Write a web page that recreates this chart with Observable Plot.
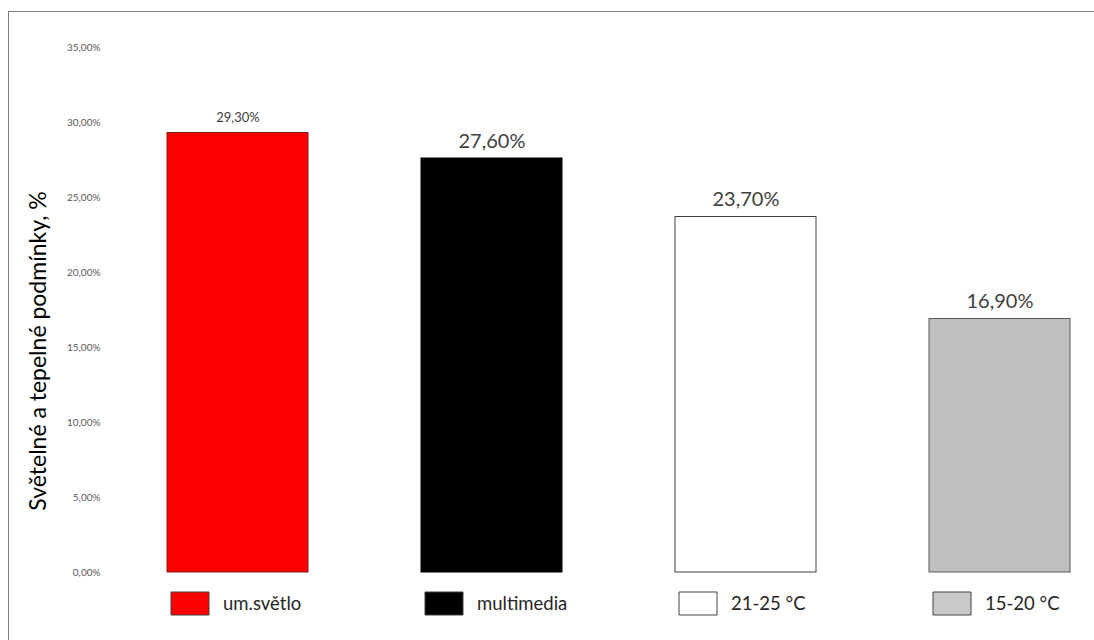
<!DOCTYPE html>
<html>
<head>
<meta charset="utf-8">
<script src="https://cdn.jsdelivr.net/npm/d3@7"></script>
<script src="https://cdn.jsdelivr.net/npm/@observablehq/plot@0.6"></script>
<style>
  html, body { margin: 0; padding: 0; background: #fff; }
  #wrap { position: relative; width: 1094px; height: 640px; overflow: hidden; }
  #frame { position: absolute; left: 8px; top: 11px; width: 1200px; height: 700px;
           border-left: 1.5px solid #7a7a7a; border-top: 1.5px solid #7a7a7a; pointer-events: none; }
  #chart { position: absolute; left: 0; top: 0; }
</style>
</head>
<body>
<div id="wrap"><div id="chart"></div><div id="frame"></div></div>
<script>
const categories = ["um.světlo", "multimedia", "21-25 °C", "15-20 °C"];
const values = [29.3, 27.6, 23.7, 16.9];
const fills = ["#ff0000", "#000000", "#ffffff", "#bfbfbf"];
const strokes = ["#7f1f1f", "#000000", "#404040", "#595959"];
const swatchFills = ["#ff0000", "#000000", "#ffffff", "#c9c9c9"];
const yTicks = [0, 5, 10, 15, 20, 25, 30, 35];
const yTitle = "Světelné a tepelné podmínky, %";

const data = categories.map((c, i) => ({
  cat: c, value: values[i], fill: fills[i], stroke: strokes[i], swatch: swatchFills[i], i
}));
const pct = v => v.toFixed(2).replace(".", ",") + "%";

const font = "Lato, 'Open Sans', sans-serif";
const swatchSymbol = { draw(ctx) { ctx.rect(-19, -11.5, 38, 23); } };

const chart = Plot.plot({
  width: 1094,
  height: 640,
  marginLeft: 166,
  marginRight: 22,
  marginTop: 47,
  marginBottom: 68,
  style: { fontFamily: font, background: "transparent", overflow: "visible" },
  x: { domain: categories, paddingInner: 0.443, paddingOuter: 0, axis: null },
  y: { domain: [0, 35], axis: null },
  color: { type: "identity" },
  marks: [
    Plot.axisY({ ticks: yTicks, tickFormat: pct, tickSize: 0, tickPadding: 66, fontSize: 10, color: "#595959", label: null }),
    Plot.barY(data, { x: "cat", y: "value", fill: "fill", stroke: "stroke", strokeWidth: 1 }),
    Plot.text(data.filter(d => d.i === 0), { x: "cat", y: "value", text: d => pct(d.value), dy: -15, fontSize: 13, fill: "#404040" }),
    Plot.text(data.filter(d => d.i > 0), { x: "cat", y: "value", text: d => pct(d.value), dy: -17, fontSize: 20, fill: "#404040" }),
    Plot.dot(data, { x: "cat", y: 0, symbol: swatchSymbol, r: 10, fill: "swatch", stroke: "#404040", strokeWidth: 1, dx: -48, dy: 31 }),
    Plot.text(data, { x: "cat", y: 0, text: "cat", textAnchor: "start", dx: -15, dy: 32, fontSize: 18.5, fill: "#262626" }),
    Plot.text([yTitle], { frameAnchor: "left", textAnchor: "middle", rotate: -90, dx: -128, dy: 41, fontSize: 23, fill: "#000" })
  ]
});
document.getElementById("chart").appendChild(chart);
</script>
</body>
</html>
